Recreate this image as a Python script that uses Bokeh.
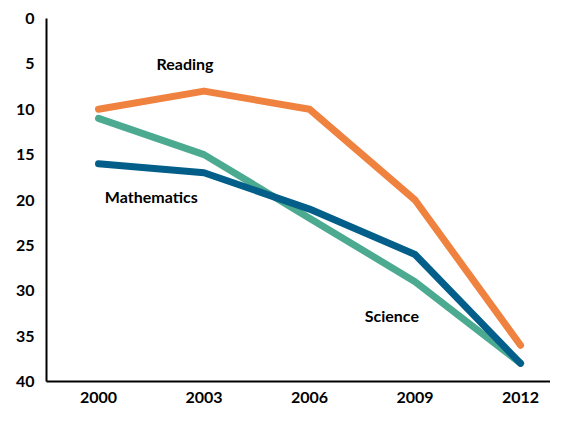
from bokeh.plotting import figure
from bokeh.models import Range1d, FixedTicker, Label
from bokeh.embed import file_html
from bokeh.resources import INLINE

years = ["2000", "2003", "2006", "2009", "2012"]
reading = [10, 8, 10, 20, 36]
science = [11, 15, 22, 29, 38]
mathematics = [16, 17, 21, 26, 38]
y_ticks = [0, 5, 10, 15, 20, 25, 30, 35, 40]

FONT = "Lato"
xs = list(range(len(years)))

p = figure(width=550, height=405, output_backend="svg", toolbar_location=None,
           x_range=Range1d(-0.493, 4.284), y_range=Range1d(40, 0),
           min_border_left=46, min_border_right=0, min_border_top=18, min_border_bottom=0)
p.outline_line_color = None
p.xgrid.visible = False
p.ygrid.visible = False
p.background_fill_color = "white"

series = [
    (reading, "#F0823F"),
    (science, "#4CAA90"),
    (mathematics, "#035F89"),
]
for vals, col in series:
    p.line(xs, vals, line_color=col, line_width=7, line_cap="round", line_join="round")

for ax in (p.xaxis[0], p.yaxis[0]):
    ax.axis_line_color = "black"
    ax.axis_line_width = 2
    ax.major_tick_line_color = None
    ax.minor_tick_line_color = None
    ax.major_label_text_font = FONT
    ax.major_label_text_font_style = "bold"
    ax.major_label_text_font_size = "16px"
    ax.major_label_text_color = "black"

p.xaxis.ticker = FixedTicker(ticks=xs)
p.xaxis.major_label_overrides = {i: y for i, y in enumerate(years)}
p.xaxis.major_label_standoff = 4
p.yaxis.ticker = FixedTicker(ticks=y_ticks)
p.yaxis.major_label_standoff = 6

labels = [("Reading", 0.82, 5.0), ("Mathematics", 0.5, 19.6), ("Science", 2.78, 32.7)]
for txt, lx, ly in labels:
    p.add_layout(Label(x=lx, y=ly, text=txt, text_font=FONT, text_font_style="bold",
                       text_font_size="16px", text_align="center", text_baseline="middle",
                       text_color="black"))

open("out.html", "w").write(file_html(p, INLINE))
